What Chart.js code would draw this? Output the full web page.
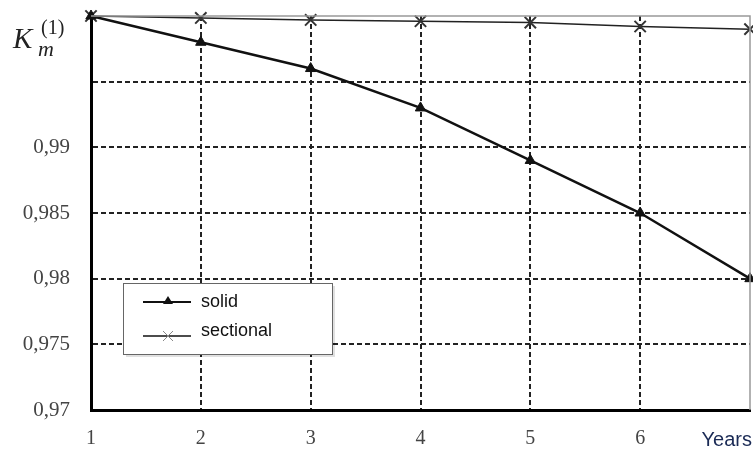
<!DOCTYPE html>
<html>
<head>
<meta charset="utf-8">
<script src="https://cdn.jsdelivr.net/npm/chart.js@4.4.0/dist/chart.umd.min.js"></script>
<style>
  body { margin: 0; background: #fff; }
</style>
</head>
<body>
<canvas id="mycanvas" width="753" height="453"></canvas>
<script>
var years = [1, 2, 3, 4, 5, 6, 7];
var solid = [1.0, 0.998, 0.996, 0.993, 0.989, 0.985, 0.980];
var sectional = [1.0, 0.99985, 0.9997, 0.9996, 0.9995, 0.9992, 0.999];
var yTicks = [0.97, 0.975, 0.98, 0.985, 0.99];

var extras = {
	id: 'extras',
	afterDraw: function(chart) {
		var ctx = chart.ctx;
		var a = chart.chartArea;
		ctx.save();
		// top and right frame
		ctx.strokeStyle = '#999';
		ctx.lineWidth = 1.5;
		ctx.beginPath();
		ctx.moveTo(a.left, a.top);
		ctx.lineTo(a.right, a.top);
		ctx.lineTo(a.right, a.bottom);
		ctx.stroke();

		// axis title K_m^(1)
		ctx.fillStyle = '#222';
		ctx.font = 'italic 29px "Liberation Serif"';
		ctx.textBaseline = 'alphabetic';
		ctx.fillText('K', 13, 48);
		ctx.font = 'italic 22px "Liberation Serif"';
		ctx.fillText('m', 38, 56);
		ctx.font = '20px "Liberation Serif"';
		ctx.fillText('(1)', 41, 34);

		// Years label
		ctx.fillStyle = '#1a2a55';
		ctx.font = '20px "Liberation Sans"';
		ctx.textAlign = 'right';
		ctx.fillText('Years', 752, 446);

		// legend
		var lx = 123, ly = 283, lw = 209, lh = 71;
		ctx.fillStyle = 'rgba(0,0,0,0.12)';
		ctx.fillRect(lx + 3, ly + 3, lw, lh);
		ctx.fillStyle = '#fff';
		ctx.fillRect(lx, ly, lw, lh);
		ctx.strokeStyle = '#666';
		ctx.lineWidth = 1;
		ctx.strokeRect(lx + 0.5, ly + 0.5, lw, lh);

		ctx.strokeStyle = '#111';
		ctx.lineWidth = 2;
		ctx.beginPath();
		ctx.moveTo(143, 302); ctx.lineTo(191, 302);
		ctx.stroke();
		ctx.fillStyle = '#111';
		ctx.beginPath();
		ctx.moveTo(168, 296); ctx.lineTo(173, 304); ctx.lineTo(163, 304);
		ctx.closePath(); ctx.fill();

		ctx.lineWidth = 1.5;
		ctx.beginPath();
		ctx.moveTo(143, 336); ctx.lineTo(191, 336);
		ctx.stroke();
		ctx.strokeStyle = '#888';
		ctx.lineWidth = 1;
		ctx.beginPath();
		ctx.moveTo(163, 331); ctx.lineTo(173, 341);
		ctx.moveTo(173, 331); ctx.lineTo(163, 341);
		ctx.stroke();

		ctx.fillStyle = '#111';
		ctx.textAlign = 'left';
		ctx.textBaseline = 'middle';
		ctx.font = '18px "Liberation Sans"';
		ctx.fillText('solid', 201, 302);
		ctx.fillText('sectional', 201, 331);
		ctx.restore();
	}
};

new Chart(document.getElementById('mycanvas'), {
	type: 'line',
	data: {
		labels: years,
		datasets: [
			{
				label: 'solid',
				data: solid,
				borderColor: '#111',
				backgroundColor: '#111',
				borderWidth: 2.5,
				pointStyle: 'triangle',
				pointRadius: 6,
				pointBorderWidth: 1,
				tension: 0,
				clip: 10
			},
			{
				label: 'sectional',
				data: sectional,
				borderColor: '#222',
				backgroundColor: '#333',
				borderWidth: 1.5,
				pointStyle: 'crossRot',
				pointRadius: 8,
				pointBorderColor: '#333',
				pointBorderWidth: 2,
				tension: 0,
				clip: 10
			}
		]
	},
	options: {
		responsive: false,
		animation: false,
		devicePixelRatio: 1,
		layout: { autoPadding: false, padding: { top: 16, right: 3, left: 0, bottom: 0 } },
		plugins: { legend: { display: false }, tooltip: { enabled: false } },
		scales: {
			x: {
				type: 'linear',
				min: 1,
				max: 7,
				afterFit: function(s) { s.height = 43; s.paddingLeft = 0; s.paddingRight = 0; },
				afterBuildTicks: function(s) { s.ticks = years.map(function(v) { return { value: v }; }); },
				border: { display: true, color: '#000', width: 3, dash: [5, 3] },
				grid: {
					color: function(c) { return (c.tick && (c.tick.value === 1 || c.tick.value === 7)) ? 'rgba(0,0,0,0)' : '#222'; },
					lineWidth: 2,
					drawTicks: false
				},
				ticks: {
					padding: 17,
					color: '#444',
					font: { family: 'Liberation Serif', size: 20 },
					callback: function(v) { return v === 7 ? '' : String(v); }
				}
			},
			y: {
				min: 0.97,
				max: 1.0,
				afterFit: function(s) { s.width = 91; s.paddingTop = 0; s.paddingBottom = 0; },
				afterBuildTicks: function(s) {
					s.ticks = [0.97, 0.975, 0.98, 0.985, 0.99, 0.995, 1.0].map(function(v) { return { value: v }; });
				},
				border: { display: true, color: '#000', width: 3, dash: [5, 3] },
				grid: {
					color: function(c) { return (c.tick && (c.tick.value === 0.97 || c.tick.value === 1.0)) ? 'rgba(0,0,0,0)' : '#222'; },
					lineWidth: 2,
					drawTicks: false
				},
				ticks: {
					padding: 21,
					color: '#444',
					font: { family: 'Liberation Serif', size: 21 },
					callback: function(v) {
						var idx = yTicks.findIndex(function(t) { return Math.abs(t - v) < 1e-9; });
						return idx >= 0 ? String(yTicks[idx]).replace('.', ',') : '';
					}
				}
			}
		}
	},
	plugins: [extras]
});
</script>
</body>
</html>
